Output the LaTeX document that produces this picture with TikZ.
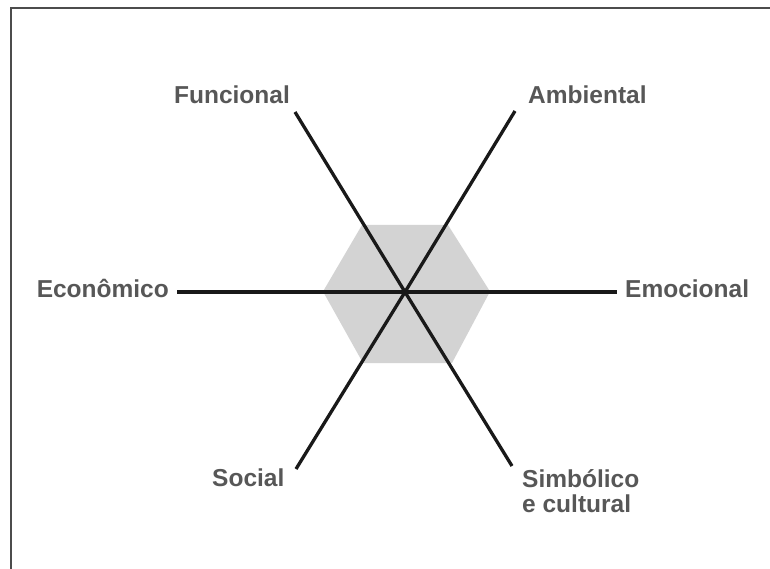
\documentclass[tikz,border=0pt]{standalone}
\usepackage{fontspec}
\setmainfont{Liberation Sans}
\begin{document}
\begin{tikzpicture}[x=1pt,y=-1pt,
  lbl/.style={font=\fontsize{24.5}{25}\selectfont\bfseries, text=labelgray, inner sep=0pt},
  spoke/.style={line width=3.3pt, draw=black!90},
  frameline/.style={line width=1.8pt, draw=black!70}]
\definecolor{labelgray}{HTML}{575757}
\definecolor{hexgray}{HTML}{D3D3D3}
\useasboundingbox (0,0) rectangle (770,569);
\draw[frameline] (10.7,569) -- (10.7,8) -- (770,8);
% hexagon
\fill[hexgray] (323,291.5) -- (362,225) -- (448,225) -- (490,291.5) -- (452,363) -- (363,363) -- cycle;
% center and spoke ends
\coordinate (c) at (405,292);
\coordinate (eF) at (295,112);
\coordinate (eA) at (515,111);
\coordinate (eE) at (177,292);
\coordinate (eM) at (617,292);
\coordinate (eS) at (296,469);
\coordinate (eY) at (512,466);
\draw[spoke] (c) -- (eF);
\draw[spoke] (c) -- (eA);
\draw[spoke] (c) -- (eE);
\draw[spoke] (c) -- (eM);
\draw[spoke] (c) -- (eS);
\draw[spoke] (c) -- (eY);
% labels
\node[lbl, anchor=base east] (lF) at (290,104) {Funcional};
\node[lbl, anchor=base west] (lA) at (528,104) {Ambiental};
\node[lbl, anchor=base east] (lE) at (169,297) {Econômico};
\node[lbl, anchor=base west] (lM) at (625,297) {Emocional};
\node[lbl, anchor=base west] (lS) at (212,486) {Social};
\node[lbl, anchor=north west, align=left] (lY) at (522,469) {Simbólico\\e cultural};
\end{tikzpicture}
\end{document}
